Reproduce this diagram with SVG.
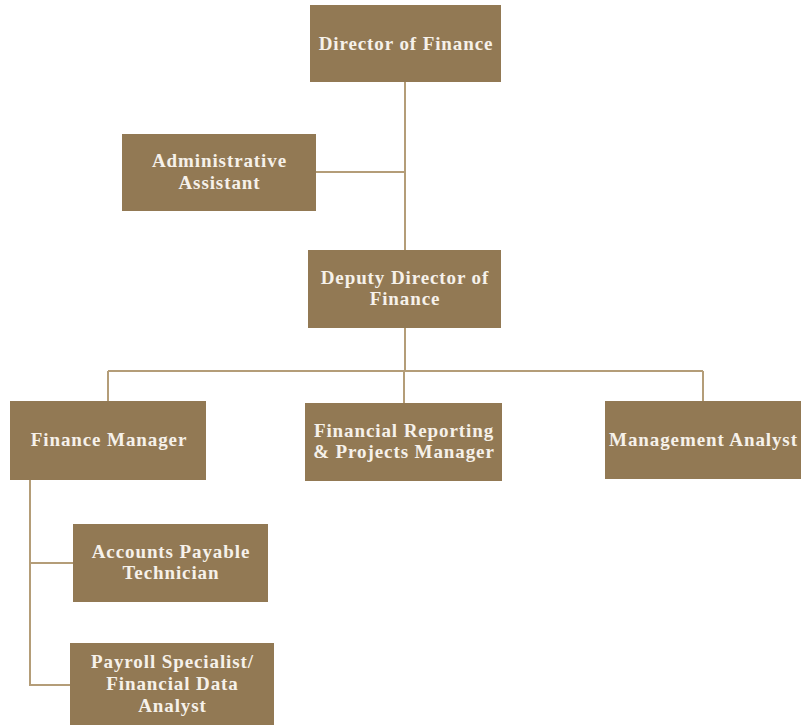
<svg xmlns="http://www.w3.org/2000/svg" width="802" height="725" viewBox="0 0 802 725">
<style>
.box{fill:#927954}
.t{font-family:"Liberation Serif","Times New Roman",serif;font-weight:bold;font-size:19px;letter-spacing:0.9px;fill:#f6f1ea;text-anchor:middle}
.c{stroke:#b49d78;stroke-width:2;fill:none}
</style>
<rect width="802" height="725" fill="#ffffff"/>
<g id="connectors">
<path class="c" d="M405,82 V250 M316,172 H405"/>
<path class="c" d="M405,328 V371 M108,371 H703 M108,371 V401 M404,371 V403 M703,371 V401"/>
<path class="c" d="M30,480 V685 H70 M30,563 H73"/>
</g>
<g id="director"><rect class="box" x="310" y="5" width="191" height="77"/><text class="t" x="406" y="50">Director of Finance</text></g>
<g id="admin"><rect class="box" x="122" y="134" width="194" height="77"/><text class="t" x="219.5" y="167">Administrative</text><text class="t" x="219.5" y="189">Assistant</text></g>
<g id="deputy"><rect class="box" x="308" y="250" width="193" height="78"/><text class="t" x="405" y="284">Deputy Director of</text><text class="t" x="405" y="305">Finance</text></g>
<g id="finmgr"><rect class="box" x="10" y="401" width="196" height="79"/><text class="t" x="109" y="446">Finance Manager</text></g>
<g id="finrep"><rect class="box" x="305" y="403" width="197" height="78"/><text class="t" x="404" y="437">Financial Reporting</text><text class="t" x="404" y="458">&amp; Projects Manager</text></g>
<g id="mgmt"><rect class="box" x="605" y="401" width="196" height="78"/><text class="t" x="703.5" y="446">Management Analyst</text></g>
<g id="ap"><rect class="box" x="73" y="524" width="195" height="78"/><text class="t" x="171" y="558">Accounts Payable</text><text class="t" x="171" y="579">Technician</text></g>
<g id="payroll"><rect class="box" x="70" y="643" width="204" height="82"/><text class="t" x="172.5" y="668">Payroll Specialist/</text><text class="t" x="172.5" y="690">Financial Data</text><text class="t" x="172.5" y="712">Analyst</text></g>
</svg>
